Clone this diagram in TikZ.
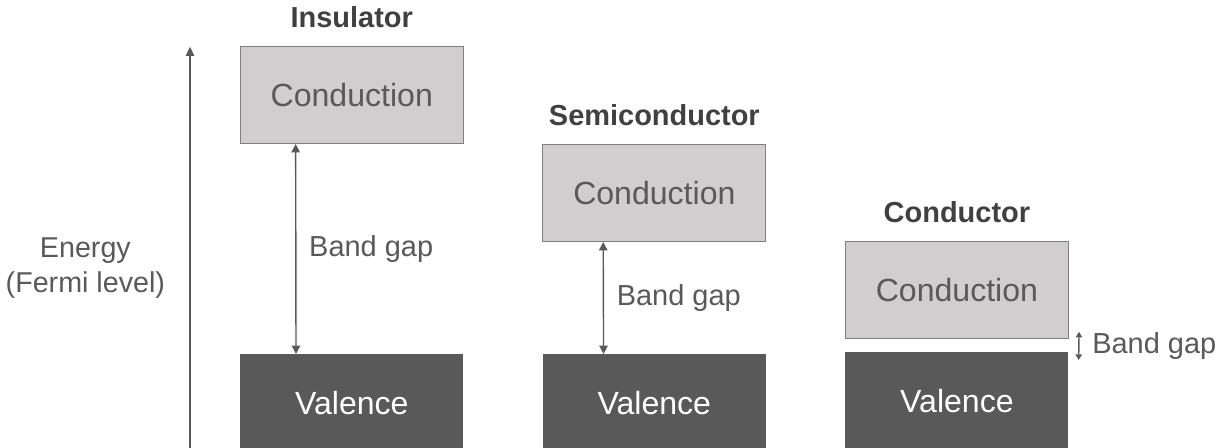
\documentclass[tikz,border=0pt]{standalone}
\usepackage{fontspec}
\setmainfont{Liberation Sans}
\usetikzlibrary{positioning,arrows.meta}
\definecolor{bandgray}{HTML}{D0CECE}
\definecolor{bandedge}{HTML}{7F7F7F}
\definecolor{darkband}{HTML}{595959}
\definecolor{titlegray}{HTML}{404040}
\tikzset{
  cband/.style={draw=bandedge, fill=bandgray, line width=0.9pt, minimum width=5.575cm, minimum height=2.425cm, text=darkband, font=\fontsize{22.8}{27}\selectfont},
  vband/.style={fill=darkband, minimum width=5.575cm, minimum height=2.425cm, text=white, font=\fontsize{22.8}{27}\selectfont},
  bandtitle/.style={text=titlegray, font=\fontsize{20.6}{25}\selectfont\bfseries},
  gaplabel/.style={text=darkband, font=\fontsize{20.6}{25}\selectfont},
  gaparrow/.style={draw=darkband, line width=1pt, {Triangle[width=6pt,length=6pt]}-{Triangle[width=6pt,length=6pt]}},
}

\begin{document}
\begin{tikzpicture}
\useasboundingbox (0,0) rectangle (30.5,11.2);
\clip (0,0) rectangle (30.5,11.2);
% --- energy axis ---
\coordinate (axis-b) at (4.75,0);
\coordinate (axis-t) at (4.75,10.03);
\coordinate (axis-m) at (4.75,4.5);
\draw[darkband, line width=1pt, -{Triangle[width=6pt,length=6.5pt]}] (axis-b) -- (axis-t);
\node[gaplabel, font=\fontsize{20.4}{24.4}\selectfont, align=center, left=0.5cm of axis-m] (energy) {Energy\\(Fermi level)};
% --- insulator ---
\node[vband, anchor=north west] (ins-vb) at (6.0,2.35) {Valence};
\node[cband, above=5.25cm of ins-vb] (ins-cb) {Conduction};
\node[bandtitle, above=0.33cm of ins-cb] (ins-t) {Insulator};
\draw[gaparrow] ([xshift=1.4cm]ins-cb.south west) -- ([xshift=1.4cm]ins-vb.north west)
  node[gaplabel, midway, right=0.2cm] (ins-gap) {Band gap};
% --- semiconductor ---
\node[vband, right=1.975cm of ins-vb] (semi-vb) {Valence};
\node[cband, above=2.8cm of semi-vb] (semi-cb) {Conduction};
\node[bandtitle, above=0.33cm of semi-cb] (semi-t) {Semiconductor};
\draw[gaparrow] ([xshift=1.525cm]semi-cb.south west) -- ([xshift=1.525cm]semi-vb.north west)
  node[gaplabel, midway, right=0.2cm] (semi-gap) {Band gap};
% --- conductor ---
\node[vband, right=1.975cm of semi-vb, yshift=0.05cm] (cond-vb) {Valence};
\node[cband, above=0.325cm of cond-vb] (cond-cb) {Conduction};
\node[bandtitle, above=0.33cm of cond-cb] (cond-t) {Conductor};
\draw[gaparrow, {Triangle[width=4.5pt,length=4pt]}-{Triangle[width=4.5pt,length=4pt]}] ([xshift=0.25cm,yshift=0.18cm]cond-cb.south east) -- ([xshift=0.25cm,yshift=-0.2cm]cond-vb.north east)
  node[gaplabel, midway, right=0.2cm] (cond-gap) {Band gap};
\end{tikzpicture}
\end{document}
